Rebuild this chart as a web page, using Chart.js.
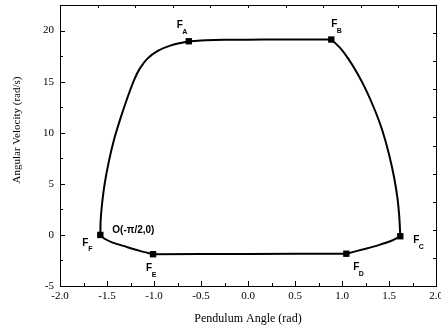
<!DOCTYPE html>
<html>
<head>
<meta charset="utf-8">
<script src="https://cdn.jsdelivr.net/npm/chart.js@4.4.0/dist/chart.umd.min.js"></script>
<style>
  html, body { margin: 0; padding: 0; background: #fff; }
</style>
</head>
<body>
<canvas id="phase" width="441" height="331"></canvas>
<script>
// axis ticks
const xTicks = [-2.0, -1.5, -1.0, -0.5, 0.0, 0.5, 1.0, 1.5, 2.0];
const yTicks = [-5, 0, 5, 10, 15, 20];

// switching points F_A .. F_F
const pointNames = ['A', 'B', 'C', 'D', 'E', 'F'];
const pointAngle = [-0.63, 0.886, 1.62, 1.046, -1.01, -1.571];
const pointVelocity = [18.95, 19.12, -0.13, -1.84, -1.89, 0.0];

// trajectory pieces between switching points
const leftAngle = [-1.571, -1.567, -1.553, -1.525, -1.48, -1.42, -1.35, -1.28, -1.21, -1.15, -1.07, -0.96, -0.82, -0.63];
const leftVelocity = [0.0, 1.5, 3.0, 5.0, 7.2, 9.5, 11.6, 13.5, 15.2, 16.3, 17.25, 18.0, 18.55, 18.95];

const topAngle = [-0.63, -0.45, -0.25, 0.0, 0.3, 0.6, 0.886];
const topVelocity = [18.95, 19.04, 19.09, 19.11, 19.12, 19.12, 19.12];

const rightAngle = [0.886, 0.98, 1.07, 1.17, 1.26, 1.35, 1.43, 1.5, 1.555, 1.59, 1.61, 1.62];
const rightVelocity = [19.12, 18.3, 17.2, 15.7, 14.1, 12.2, 10.2, 7.9, 5.6, 3.6, 1.7, -0.13];

const lowRightAngle = [1.62, 1.52, 1.39, 1.24, 1.046];
const lowRightVelocity = [-0.13, -0.6, -1.0, -1.38, -1.84];

const bottomAngle = [1.046, 0.0, -1.01];
const bottomVelocity = [-1.84, -1.87, -1.89];

const lowLeftAngle = [-1.01, -1.15, -1.3, -1.44, -1.53, -1.571];
const lowLeftVelocity = [-1.89, -1.56, -1.15, -0.75, -0.35, 0.0];

const pieces = [
  [leftAngle, leftVelocity],
  [topAngle, topVelocity],
  [rightAngle, rightVelocity],
  [lowRightAngle, lowRightVelocity],
  [bottomAngle, bottomVelocity],
  [lowLeftAngle, lowLeftVelocity]
];

function toPoints(xs, ys) {
  return xs.map((x, i) => ({ x: x, y: ys[i] }));
}

const serif = '"Liberation Serif", "Times New Roman", serif';
const sans = '"Liberation Sans", Arial, sans-serif';

const datasets = pieces.map(p => ({
  data: toPoints(p[0], p[1]),
  showLine: true,
  borderColor: '#000',
  borderWidth: 2,
  tension: 0.3,
  pointRadius: 0,
  fill: false
}));

datasets.push({
  data: toPoints(pointAngle, pointVelocity),
  showLine: false,
  pointStyle: 'rect',
  pointRadius: 4.5,
  backgroundColor: '#000',
  borderColor: '#000',
  borderWidth: 0
});

// label placement around each switching point (px from the marker)
const labelOffsets = [[-9, -16], [3, -15], [16, 4], [10, 14], [-4, 14], [-15, 8]];

const framePlugin = {
  id: 'frame',
  afterDraw(chart) {
    const ctx = chart.ctx;
    const a = chart.chartArea;
    const xs = chart.scales.x;
    const ys = chart.scales.y;
    ctx.save();
    ctx.strokeStyle = '#000';
    ctx.lineWidth = 1;
    ctx.strokeRect(a.left + 0.5, a.top + 0.5, a.right - a.left, a.bottom - a.top);

    ctx.beginPath();
    // bottom axis, ticks pointing up
    for (let i = 0; i < xTicks.length - 1; i++) {
      const major = xs.getPixelForValue(xTicks[i]);
      const minor = xs.getPixelForValue((xTicks[i] + xTicks[i + 1]) / 2);
      ctx.moveTo(Math.round(major) + 0.5, a.bottom);
      ctx.lineTo(Math.round(major) + 0.5, a.bottom - 5);
      ctx.moveTo(Math.round(minor) + 0.5, a.bottom);
      ctx.lineTo(Math.round(minor) + 0.5, a.bottom - 3);
    }
    // left axis, ticks pointing right
    for (let i = 0; i < yTicks.length; i++) {
      const major = ys.getPixelForValue(yTicks[i]);
      const minor = ys.getPixelForValue(yTicks[i] + 2.5);
      ctx.moveTo(a.left, Math.round(major) + 0.5);
      ctx.lineTo(a.left + 5, Math.round(major) + 0.5);
      ctx.moveTo(a.left, Math.round(minor) + 0.5);
      ctx.lineTo(a.left + 3, Math.round(minor) + 0.5);
    }
    // top and right axes: ten plain divisions
    for (let i = 1; i < 10; i++) {
      const px = xs.getPixelForValue(xs.min + (xs.max - xs.min) * i / 10);
      ctx.moveTo(Math.round(px) + 0.5, a.top);
      ctx.lineTo(Math.round(px) + 0.5, a.top + 3);
      const py = ys.getPixelForValue(ys.min + (ys.max - ys.min) * i / 10);
      ctx.moveTo(a.right, Math.round(py) + 0.5);
      ctx.lineTo(a.right - 3, Math.round(py) + 0.5);
    }
    ctx.stroke();

    // point labels F with subscript
    ctx.fillStyle = '#000';
    ctx.textAlign = 'center';
    ctx.textBaseline = 'middle';
    pointNames.forEach((name, i) => {
      const px = xs.getPixelForValue(pointAngle[i]) + labelOffsets[i][0];
      const py = ys.getPixelForValue(pointVelocity[i]) + labelOffsets[i][1];
      ctx.font = 'bold 10px ' + sans;
      ctx.fillText('F', px, py);
      ctx.font = 'bold 7px ' + sans;
      ctx.fillText(name, px + 5, py + 6.5);
    });

    // origin note next to F_F
    ctx.textAlign = 'left';
    ctx.font = 'bold 10px ' + sans;
    ctx.fillText('O(-\u03C0/2,0)', xs.getPixelForValue(pointAngle[5]) + 12, ys.getPixelForValue(pointVelocity[5]) - 4.5);

    // axis titles
    ctx.textAlign = 'center';
    ctx.font = '12px ' + serif;
    ctx.fillText('Pendulum Angle (rad)', (a.left + a.right) / 2, 319);
    ctx.translate(17, 130);
    ctx.rotate(-Math.PI / 2);
    ctx.font = '11px ' + serif;
    ctx.fillText('Angular Velocity (rad/s)', 0, 0);
    ctx.restore();
  }
};

new Chart(document.getElementById('phase'), {
  type: 'scatter',
  data: { datasets: datasets },
  options: {
    responsive: false,
    animation: false,
    layout: { padding: { top: 5, right: 5, left: 0, bottom: 0 } },
    plugins: {
      legend: { display: false },
      tooltip: { enabled: false }
    },
    scales: {
      x: {
        type: 'linear',
        min: -2,
        max: 2,
        afterBuildTicks: s => { s.ticks = xTicks.map(v => ({ value: v })); },
        afterFit: s => { s.height = 45; s.paddingLeft = 0; s.paddingRight = 0; },
        ticks: {
          callback: v => v.toFixed(1),
          font: { family: serif, size: 11 },
          color: '#000',
          padding: 4,
          maxRotation: 0,
          autoSkip: false
        },
        grid: { display: false, drawTicks: false },
        border: { display: false }
      },
      y: {
        type: 'linear',
        min: -5,
        max: 22.5,
        afterBuildTicks: s => { s.ticks = yTicks.map(v => ({ value: v })); },
        afterFit: s => { s.width = 60; s.paddingTop = 0; s.paddingBottom = 0; },
        ticks: {
          callback: v => String(v),
          font: { family: serif, size: 11 },
          color: '#000',
          padding: 6,
          autoSkip: false
        },
        grid: { display: false, drawTicks: false },
        border: { display: false }
      }
    }
  },
  plugins: [framePlugin]
});
</script>
</body>
</html>
